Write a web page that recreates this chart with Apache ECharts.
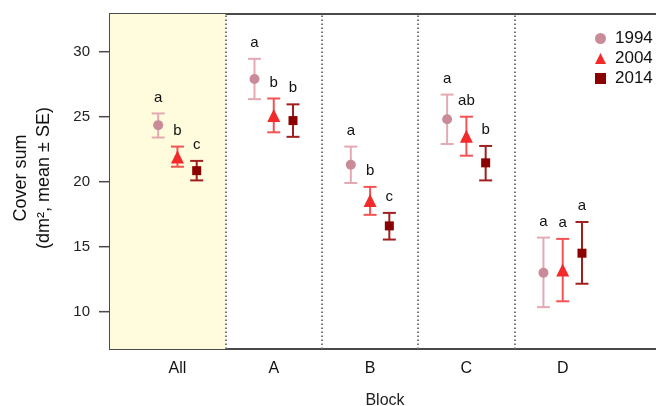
<!DOCTYPE html>
<html>
<head>
<meta charset="utf-8">
<script src="https://cdn.jsdelivr.net/npm/echarts@6/dist/echarts.min.js"></script>
<style>
  html, body { margin: 0; padding: 0; background: #fff; }
  #chart { width: 656px; height: 406px; }
</style>
</head>
<body>
<div id="chart"></div>
<script>
// Blocks along the x axis and sampling years
const categories = ['All', 'A', 'B', 'C', 'D'];
const years = ['1994', '2004', '2014'];

// Cover sum means with lower / upper SE bounds per block
const mean1994 = [24.35, 27.9, 21.3, 24.8, 13.0];
const lo1994   = [23.4, 26.35, 19.9, 22.9, 10.35];
const hi1994   = [25.25, 29.45, 22.7, 26.7, 15.7];

const mean2004 = [21.9, 25.1, 18.55, 23.5, 13.2];
const lo2004   = [21.15, 23.8, 17.45, 22.0, 10.8];
const hi2004   = [22.7, 26.4, 19.6, 25.0, 15.6];

const mean2014 = [20.85, 24.7, 16.6, 21.45, 14.5];
const lo2014   = [20.1, 23.45, 15.55, 20.1, 12.15];
const hi2014   = [21.6, 25.95, 17.6, 22.75, 16.9];

// Significance letters per block
const letters1994 = ['a', 'a', 'a', 'a', 'a'];
const letters2004 = ['b', 'b', 'b', 'ab', 'a'];
const letters2014 = ['c', 'b', 'c', 'b', 'a'];

// Y axis tick labels
const yTicks = [10, 15, 20, 25, 30];

const FONT = 'Liberation Sans, Arial, Helvetica, sans-serif';
const X_MIN = -0.7, X_MAX = 5.01;
const Y_MIN = 7.13, Y_MAX = 32.9;

const groups = [
  { name: years[0], mean: mean1994, lo: lo1994, hi: hi1994, letters: letters1994,
    offset: -0.2, symbol: 'circle', size: 10, color: '#c98b98', barColor: '#e3aab4' },
  { name: years[1], mean: mean2004, lo: lo2004, hi: hi2004, letters: letters2004,
    offset: 0, symbol: 'triangle', size: 13, color: '#f22a2a', barColor: '#f45353' },
  { name: years[2], mean: mean2014, lo: lo2014, hi: hi2014, letters: letters2014,
    offset: 0.2, symbol: 'rect', size: 9, color: '#8b0000', barColor: '#a11f1f' }
];

const series = [];

// Background band and dotted block dividers
series.push({
  type: 'line',
  data: [],
  silent: true,
  markArea: {
    silent: true,
    itemStyle: { color: '#fefcdc' },
    data: [[{ xAxis: X_MIN }, { xAxis: 0.5 }]]
  },
  markLine: {
    silent: true,
    symbol: 'none',
    label: { show: false },
    lineStyle: { color: '#666', width: 1.8, type: [1.6, 2.4] },
    data: [0.5, 1.5, 2.5, 3.5].map(v => ({ xAxis: v }))
  }
});

// Outward tick marks on the left axis
series.push({
  type: 'custom',
  silent: true,
  clip: false,
  z: 2,
  data: yTicks.map(v => [X_MIN, v]),
  renderItem: function (params, api) {
    const p = api.coord([api.value(0), api.value(1)]);
    return {
      type: 'line',
      shape: { x1: p[0] - 11, y1: p[1], x2: p[0], y2: p[1] },
      style: { stroke: '#4a4a4a', lineWidth: 1.5 }
    };
  }
});

groups.forEach(g => {
  const errData = categories.map((c, i) => [i + g.offset, g.lo[i], g.hi[i], g.letters[i]]);
  // Error bars with caps and letter above
  series.push({
    type: 'custom',
    name: g.name + ' SE',
    silent: true,
    z: 3,
    data: errData,
    renderItem: function (params, api) {
      const x = api.value(0);
      const lo = api.coord([x, api.value(1)]);
      const hi = api.coord([x, api.value(2)]);
      const half = 6.5;
      const style = { stroke: g.barColor, lineWidth: 2 };
      return {
        type: 'group',
        children: [
          { type: 'line', shape: { x1: lo[0], y1: lo[1], x2: hi[0], y2: hi[1] }, style: style },
          { type: 'line', shape: { x1: lo[0] - half, y1: lo[1], x2: lo[0] + half, y2: lo[1] }, style: style },
          { type: 'line', shape: { x1: hi[0] - half, y1: hi[1], x2: hi[0] + half, y2: hi[1] }, style: style },
          { type: 'text', x: hi[0], y: hi[1] - 16,
            style: { text: errData[params.dataIndex][3], fill: '#111', font: '15px ' + FONT,
                     align: 'center', verticalAlign: 'middle' } }
        ]
      };
    }
  });
  // Mean markers
  series.push({
    type: 'scatter',
    name: g.name,
    z: 5,
    symbol: g.symbol,
    symbolSize: g.size,
    itemStyle: { color: g.color, opacity: 1 },
    data: categories.map((c, i) => [i + g.offset, g.mean[i]])
  });
});

const chart = echarts.init(document.getElementById('chart'), null, { renderer: 'canvas' });
chart.setOption({
  animation: false,
  backgroundColor: '#fff',
  textStyle: { fontFamily: FONT },
  grid: {
    left: 110, right: -4, top: 14, bottom: 57,
    outerBoundsMode: 'none',
    containLabel: false,
    show: true, borderColor: '#4a4a4a', borderWidth: 2, backgroundColor: 'transparent'
  },
  legend: {
    orient: 'vertical',
    left: 590, top: 25,
    itemWidth: 11, itemHeight: 11, itemGap: 3,
    data: [
      { name: years[0], icon: 'circle' },
      { name: years[1], icon: 'triangle' },
      { name: years[2], icon: 'rect' }
    ],
    textStyle: { fontSize: 17, color: '#111', fontFamily: FONT, padding: [0, 0, 0, 4] },
    selectedMode: false
  },
  xAxis: {
    type: 'value',
    min: X_MIN, max: X_MAX,
    name: 'Block',
    nameLocation: 'middle',
    nameGap: 44,
    nameTextStyle: { fontSize: 16, color: '#222', fontFamily: FONT },
    axisLine: { show: false },
    axisTick: { show: false },
    splitLine: { show: false },
    axisLabel: {
      customValues: [0, 1, 2, 3, 4],
      formatter: v => categories[Math.round(v)],
      fontSize: 16, color: '#111', margin: 12, fontFamily: FONT
    }
  },
  yAxis: {
    type: 'value',
    min: Y_MIN, max: Y_MAX,
    axisLine: { show: true, lineStyle: { color: '#4a4a4a', width: 2 } },
    splitLine: { show: false },
    axisTick: { show: false },
    axisLabel: { customValues: yTicks, fontSize: 15, color: '#222', margin: 20, fontFamily: FONT }
  },
  graphic: [{
    type: 'text',
    x: 33, y: 178,
    rotation: Math.PI / 2,
    style: {
      text: 'Cover sum\n(dm², mean ± SE)',
      font: '18px ' + FONT,
      fill: '#111',
      align: 'center',
      verticalAlign: 'middle',
      lineHeight: 23
    }
  }],
  series: series
});
</script>
</body>
</html>
